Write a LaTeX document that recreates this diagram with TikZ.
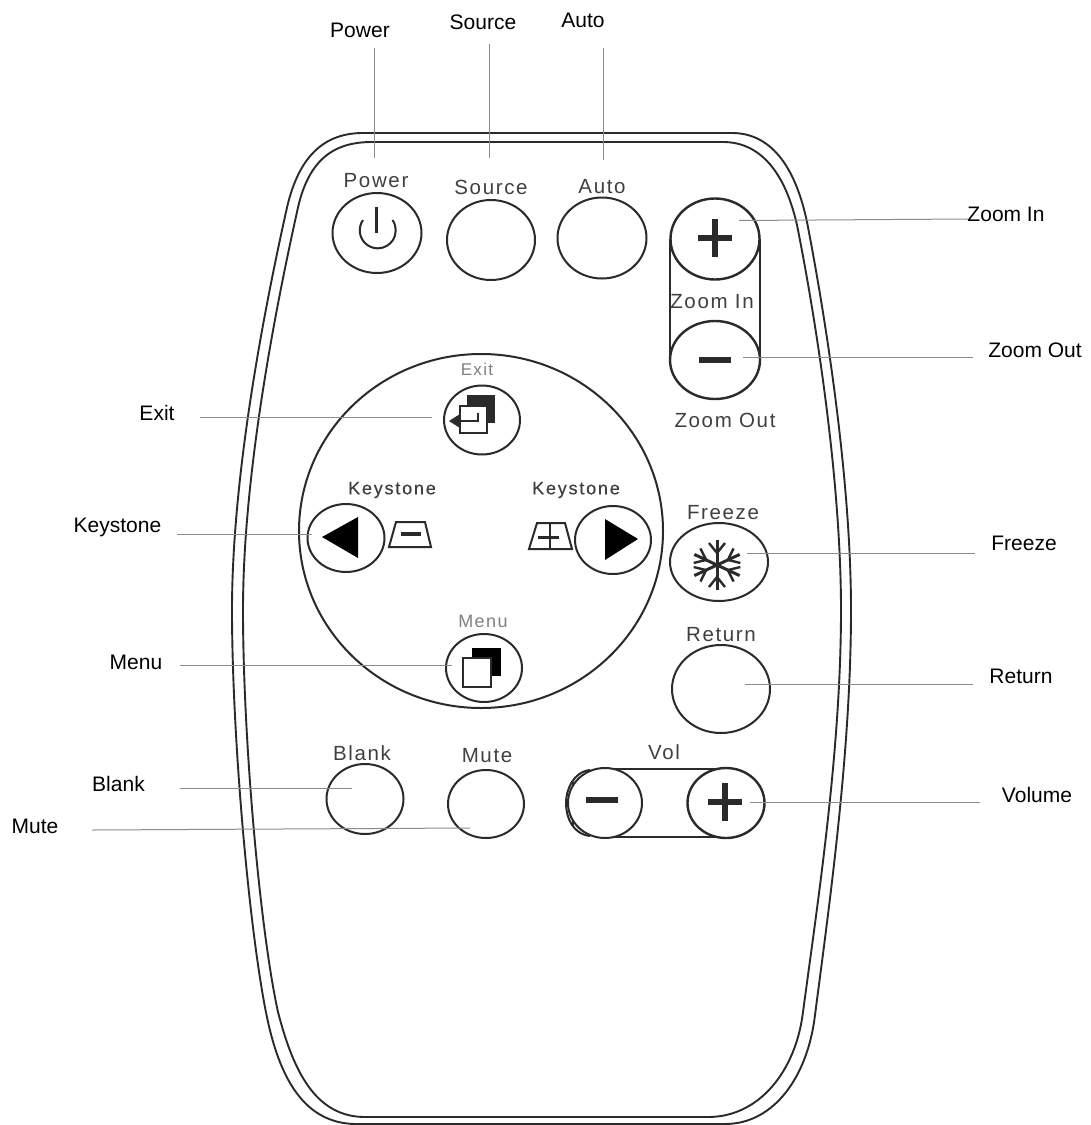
\documentclass[tikz,border=0pt]{standalone}
\usepackage{fontspec}
\setmainfont{Liberation Sans}
\newfontfamily\btnfont[LetterSpace=8]{Liberation Sans}
\newfontfamily\keyfont[LetterSpace=10,FakeBold=0.4]{Liberation Sans}
\usetikzlibrary{shapes.geometric}
\definecolor{ink}{HTML}{2A2A2A}
\definecolor{lead}{HTML}{8C8C8C}
\definecolor{btxt}{HTML}{404040}
\tikzset{
  x=1pt,y=-1pt,
  shell/.style={draw=ink,line width=1.9pt},
  btn/.style={draw=ink,line width=2pt,ellipse,inner sep=0pt,fill=white},
  leader/.style={draw=lead,line width=1pt},
  callout/.style={font=\fontsize{21}{24}\selectfont,text=black,inner sep=0pt},
  btnlabel/.style={font=\btnfont\fontsize{20.5}{24}\selectfont,text=btxt,inner sep=0pt},
  keylabel/.style={font=\keyfont\fontsize{18}{22}\selectfont,text=btxt,inner sep=0pt},
  faint/.style={font=\btnfont\fontsize{18}{22}\selectfont,text=black!50,inner sep=0pt},
  glyph/.style={draw=ink,line width=5.8pt},
}
\begin{document}
\begin{tikzpicture}
\useasboundingbox[fill=white] (0,0) rectangle (1091,1125);

% shell, outer
\draw[shell] (363,133) -- (732,133)
  .. controls (770,133) and (795,165) .. (807,222)
  .. controls (826,320) and (851,480) .. (851,610)
  .. controls (851,750) and (830,900) .. (815,1015)
  .. controls (808,1075) and (775,1124) .. (725,1124)
  -- (355,1124)
  .. controls (305,1123) and (281,1080) .. (268,1022)
  .. controls (250,940) and (232,740) .. (232,610)
  .. controls (232,480) and (262,320) .. (286,212)
  .. controls (298,155) and (325,133) .. cycle;
% shell, inner
\draw[shell] (372,142) -- (723,142)
  .. controls (760,142) and (785,172) .. (797,225)
  .. controls (816,320) and (841,480) .. (841,610)
  .. controls (841,750) and (818,900) .. (803,1012)
  .. controls (796,1070) and (760,1117) .. (708,1117)
  -- (365,1117)
  .. controls (315,1117) and (293,1070) .. (278,1012)
  .. controls (260,930) and (243,740) .. (243,610)
  .. controls (243,480) and (273,320) .. (297,212)
  .. controls (308,158) and (335,142) .. cycle;

% pads
\node[btn,fill=none,minimum width=364pt,minimum height=354pt] (pad) at (481,531) {};
\draw[draw=ink,line width=2.2pt] (670,239) -- (670,360) (760,239) -- (760,360);
\draw[draw=ink,line width=2.2pt] (605,769) -- (726,769) (605,837) -- (726,837);
\draw[draw=ink,line width=1.8pt] (573,782) -- (573,826);
\draw[draw=ink,line width=2pt] (590,770) .. controls (573,772) and (566,790) .. (566,803) .. controls (566,818) and (573,834) .. (590,836);

% buttons
\node[btn,minimum width=89pt,minimum height=80pt] (power) at (377,233) {};
\node[btn,minimum width=88pt,minimum height=80pt] (source) at (491,240) {};
\node[btn,minimum width=89pt,minimum height=81pt] (auto) at (602,238) {};
\node[btn,line width=2.4pt,minimum width=89pt,minimum height=81pt] (zoomin) at (715,239) {};
\node[btn,line width=2.4pt,minimum width=90pt,minimum height=78pt] (zoomout) at (715,360) {};
\node[btn,minimum width=76pt,minimum height=69pt] (exitb) at (482,420) {};
\node[btn,minimum width=77pt,minimum height=68pt] (kleft) at (346,538) {};
\node[btn,minimum width=76pt,minimum height=68pt] (kright) at (613,540) {};
\node[btn,minimum width=76pt,minimum height=68pt] (menub) at (484,668) {};
\node[btn,minimum width=98pt,minimum height=78pt] (freeze) at (719,562) {};
\node[btn,minimum width=98pt,minimum height=88pt] (returnb) at (721,689) {};
\node[btn,minimum width=77pt,minimum height=70pt] (blank) at (365,799) {};
\node[btn,minimum width=76pt,minimum height=68pt] (mute) at (486,804) {};
\node[btn,minimum width=74pt,minimum height=70pt] (volminus) at (605,803) {};
\node[btn,line width=2.4pt,minimum width=77pt,minimum height=70pt] (volplus) at (726,803) {};

% power glyph
\draw[draw=ink,line width=2pt] (363,220) arc[start angle=145,end angle=395,radius=18pt];
\draw[draw=ink,line width=3.4pt] (376.5,207) -- (376.5,233);

% zoom and volume glyphs
\draw[glyph] (698,238) -- (732,238) (715,219) -- (715,257);
\draw[glyph,line width=6.5pt] (699,360) -- (731,360);
\draw[glyph] (586,800) -- (618,800);
\draw[glyph] (708,802) -- (742,802) (725,783) -- (725,821);

% exit glyph
\fill[ink] (467,395) rectangle (495,423);
\draw[draw=ink,fill=white,line width=2pt] (460,406) rectangle (487,433);
\draw[draw=ink,line width=2pt] (478,413) -- (478,421) -- (456,421);
\fill[ink] (449,421) -- (460,414) -- (460,428) -- cycle;

% keystone glyphs
\fill[black] (322,537) -- (358,517) -- (358,558) -- cycle;
\fill[black] (638,539) -- (605,519) -- (605,560) -- cycle;
\draw[draw=ink,line width=2pt] (389,547) -- (431,547) -- (425,522) -- (396,522) -- cycle;
\draw[draw=ink,line width=4pt] (401,534) -- (421,534);
\draw[draw=ink,line width=2pt] (529,549) -- (572,549) -- (565,523) -- (537,523) -- cycle;
\draw[draw=ink,line width=3pt] (538,537) -- (559,537);
\draw[draw=ink,line width=2.4pt] (550,523) -- (550,549);

% menu glyph
\fill[black] (472,648) rectangle (501,676);
\draw[draw=ink,fill=white,line width=2.2pt] (463,658) rectangle (491,687);

% snowflake
\begin{scope}[shift={(717,565)},yscale=-1]
\foreach \a in {90,25,-25,155,205,270}{
  \begin{scope}[rotate=\a]
    \draw[draw=ink,line width=3pt] (0,0) -- (25,0);
    \draw[draw=ink,line width=2.4pt] (12,0) -- (22,8) (12,0) -- (22,-8);
  \end{scope}
}
\end{scope}

% button captions
\node[btnlabel] (tpower) at (376,181) {Power};
\node[btnlabel] (tsource) at (491,187) {Source};
\node[btnlabel] (tauto) at (602,187) {Auto};
\node[btnlabel] (tzoomin) at (712,302) {Zoom In};
\node[btnlabel] (tzoomout) at (725,420) {Zoom Out};
\node[faint,font=\btnfont\fontsize{17}{20}\selectfont] (texit) at (477,369) {Exit};
\node[keylabel] (tkl) at (392,490) {Keystone};
\node[keylabel] (tkr) at (576,490) {Keystone};
\node[faint] (tmenu) at (483,621) {Menu};
\node[btnlabel] (tfreeze) at (723,513) {Freeze};
\node[btnlabel] (treturn) at (721,635) {Return};
\node[btnlabel] (tblank) at (362,753) {Blank};
\node[btnlabel] (tmute) at (487,756) {Mute};
\node[btnlabel] (tvol) at (664,752) {Vol};

% callouts
\node[callout] (lpower) at (360,30) {Power};
\node[callout] (lsource) at (483,22) {Source};
\node[callout] (lauto) at (583,20) {Auto};
\node[callout] (lzoomin) at (1006,214) {Zoom In};
\node[callout] (lzoomout) at (1035,350) {Zoom Out};
\node[callout] (lexit) at (157,413) {Exit};
\node[callout] (lkey) at (117.5,527) {Keystone};
\node[callout] (lmenu) at (136,662) {Menu};
\node[callout] (lfreeze) at (1024,543) {Freeze};
\node[callout] (lreturn) at (1021,676) {Return};
\node[callout] (lblank) at (118.5,784) {Blank};
\node[callout] (lmute) at (35,826) {Mute};
\node[callout] (lvolume) at (1037,795) {Volume};

% leader ends
\coordinate (a1) at (374,48);  \coordinate (b1) at (374,158);
\coordinate (a2) at (489,44);  \coordinate (b2) at (489,158);
\coordinate (a3) at (603,48);  \coordinate (b3) at (603,160);
\coordinate (a4) at (739,220.5); \coordinate (b4) at (968,219);
\coordinate (a5) at (743,357); \coordinate (b5) at (973,357);
\coordinate (a6) at (200,417); \coordinate (b6) at (432,417);
\coordinate (a7) at (177,534); \coordinate (b7) at (312,534);
\coordinate (a8) at (180,665); \coordinate (b8) at (452,665);
\coordinate (a9) at (747,553); \coordinate (b9) at (975,553);
\coordinate (a10) at (745,684); \coordinate (b10) at (973,684);
\coordinate (a11) at (180,788); \coordinate (b11) at (352,788);
\coordinate (a12) at (92,830); \coordinate (b12) at (470,828);
\coordinate (a13) at (750,802); \coordinate (b13) at (980,802);
\foreach \i in {1,...,13}{ \draw[leader] (a\i) -- (b\i); }
\end{tikzpicture}
\end{document}
